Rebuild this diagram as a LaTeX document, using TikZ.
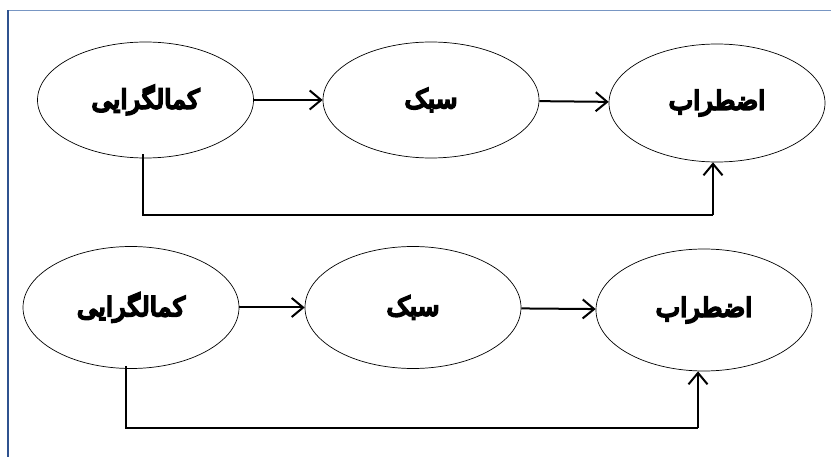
\documentclass[tikz,border=0pt]{standalone}
\usepackage{fontspec}
\newfontfamily\arabicfont[Script=Arabic,FakeBold=8]{DejaVu Sans}
\TeXXeTstate=1
\usetikzlibrary{shapes.geometric,arrows.meta}
\definecolor{frametop}{RGB}{120,150,195}
\definecolor{frameleft}{RGB}{47,82,143}
\tikzset{
  bubble/.style={ellipse,draw=black,line width=0.7pt,inner sep=0pt,minimum width=216pt,
    font=\arabicfont\fontsize{26}{30}\selectfont},
  tipv/.tip={Straight Barb[length=6pt,width=10pt,scale=1.9]},
  fwd/.style={line width=2pt,-tipv},
  fb/.style={line width=1.1pt},
  fbup/.style={line width=2pt,-tipv}
}
\begin{document}
\begin{tikzpicture}[x=1pt,y=-1pt]
\useasboundingbox (0,0) rectangle (831,457);
\fill[white] (0,0) rectangle (831,457);
% frame
\draw[frametop,line width=1.8pt] (8,10.5) -- (831,10.5);
\draw[frameleft,line width=1.4pt] (8,10.5) -- (8,457);
% top row
\node[bubble,minimum height=116pt] (a1) at (145.5,100) {\beginR کمالگرایی\endR};
\node[bubble,minimum height=116pt] (b1) at (431,100) {\beginR سبک\endR};
\node[bubble,minimum height=118pt] (c1) at (717,103) {\beginR اضطراب\endR};
\draw[fwd] (a1) -- (b1);
\draw[fwd] (b1) -- (c1);
\coordinate (t1) at (143,215);
\coordinate (u1) at (713,215);
\draw[fb] ([xshift=-2.5pt,yshift=4pt]a1.south) -- ([xshift=-2.5pt]a1.south |- t1) -- (u1);
\draw[fbup] (u1) -- (c1.south -| u1);
% bottom row
\node[bubble,minimum height=122pt] (a2) at (131,307.5) {\beginR کمالگرایی\endR};
\node[bubble,minimum height=122pt] (b2) at (413,307.5) {\beginR سبک\endR};
\node[bubble,minimum height=122pt] (c2) at (704,310) {\beginR اضطراب\endR};
\draw[fwd] (a2) -- (b2);
\draw[fwd] (b2) -- (c2);
\coordinate (t2) at (126,428);
\coordinate (u2) at (698,428);
\draw[fb] ([xshift=-5pt,yshift=3pt]a2.south) -- ([xshift=-5pt]a2.south |- t2) -- (u2);
\draw[fbup] (u2) -- (c2.south -| u2);
\end{tikzpicture}
\end{document}
